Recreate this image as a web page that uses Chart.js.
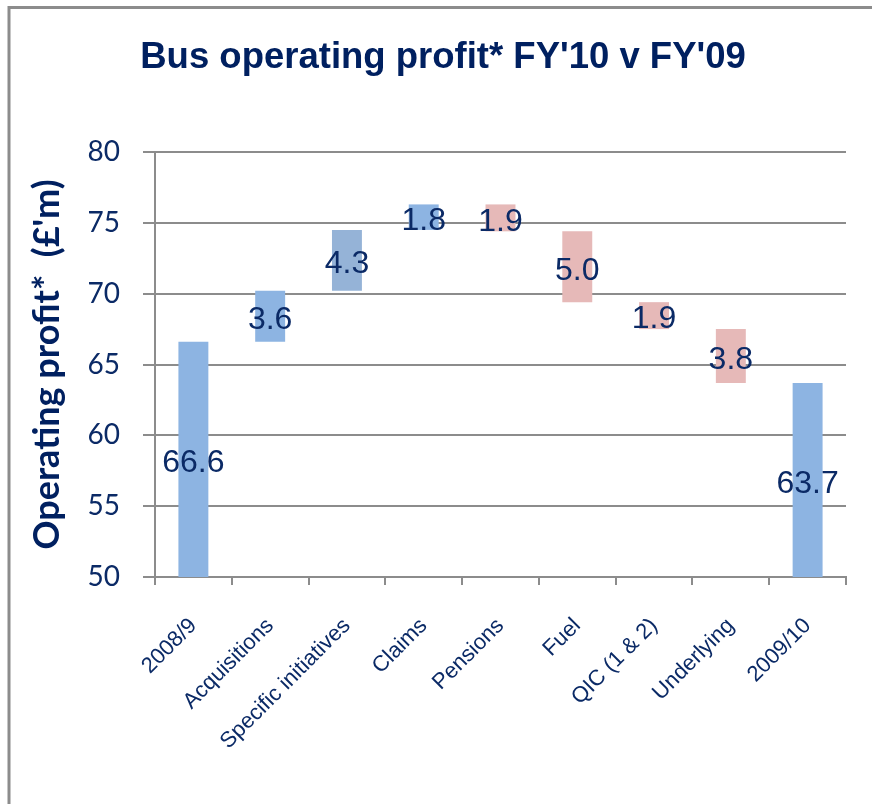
<!DOCTYPE html>
<html><head><meta charset="utf-8">
<script src="https://cdn.jsdelivr.net/npm/chart.js@4/dist/chart.umd.min.js"></script>
<style>html,body{margin:0;padding:0;background:#fff;} canvas{display:block;}</style>
</head><body>
<canvas id="c" width="872" height="804"></canvas>
<script>
// ---- data ----
const categories = ['2008/9','Acquisitions','Specific initiatives','Claims','Pensions','Fuel','QIC (1 & 2)','Underlying','2009/10'];
const openingValue = 66.6;
const changes = [3.6, 4.3, 1.8, -1.9, -5.0, -1.9, -3.8];
const closingValue = 63.7;
const yTicks = [50, 55, 60, 65, 70, 75, 80];
const titleText = "Bus operating profit* FY'10 v FY'09";
const yAxisTitle = "Operating profit*  (£'m)";
const barColors = ['#8DB4E2','#8DB4E2','#95B3D7','#8DB4E2','#E6B9B8','#E6B9B8','#E6B9B8','#E6B9B8','#8DB4E2'];

// ---- build waterfall ranges ----
const axisMin = yTicks[0], axisMax = yTicks[yTicks.length-1];
const ranges = [[axisMin, openingValue]];
const labels = [openingValue.toFixed(1)];
let running = openingValue;
changes.forEach(c => {
  const next = Math.round((running + c) * 10) / 10;
  ranges.push([Math.min(running, next), Math.max(running, next)]);
  labels.push(Math.abs(c).toFixed(1));
  running = next;
});
ranges.push([axisMin, closingValue]);
labels.push(closingValue.toFixed(1));

const NAVY = '#0B2A66';
const GRID = '#8C8C8C';

const decor = {
  id: 'decor',
  beforeDraw(chart) {
    const ctx = chart.ctx;
    ctx.save();
    ctx.fillStyle = '#fff';
    ctx.fillRect(0, 0, chart.width, chart.height);
    ctx.strokeStyle = GRID;
    ctx.lineWidth = 3;
    ctx.beginPath();
    ctx.moveTo(9, 804); ctx.lineTo(9, 7.5); ctx.lineTo(872, 7.5);
    ctx.stroke();
    ctx.fillStyle = '#002060';
    ctx.font = "bold 36.5px 'Liberation Sans'";
    ctx.textAlign = 'center';
    ctx.textBaseline = 'alphabetic';
    ctx.fillText(titleText, 443, 68);
    ctx.restore();
  },
  afterDatasetsDraw(chart) {
    const ctx = chart.ctx;
    const meta = chart.getDatasetMeta(0);
    ctx.save();
    ctx.fillStyle = NAVY;
    ctx.font = "32px 'Liberation Sans'";
    ctx.textAlign = 'center';
    ctx.textBaseline = 'middle';
    meta.data.forEach((el, i) => {
      ctx.fillText(labels[i], el.x, (el.y + el.base) / 2 + 4);
    });
    ctx.restore();
  }
};

new Chart(document.getElementById('c'), {
  type: 'bar',
  data: {
    labels: categories,
    datasets: [{
      data: ranges,
      backgroundColor: barColors,
      borderWidth: 0,
      barPercentage: 0.39,
      categoryPercentage: 1.0
    }]
  },
  options: {
    responsive: false,
    animation: false,
    layout: { padding: { top: 152, right: 26, left: 0, bottom: 0 } },
    plugins: { legend: { display: false }, tooltip: { enabled: false }, title: { display: false } },
    scales: {
      x: {
        grid: { drawOnChartArea: false, drawTicks: true, tickLength: 8, color: GRID, lineWidth: 2, offset: true },
        border: { color: GRID, width: 2 },
        ticks: { minRotation: 45, maxRotation: 45, autoSkip: false, color: NAVY,
                 font: { family: 'Liberation Sans', size: 22 }, padding: 28 },
        afterFit: s => { s.height = 227; }
      },
      y: {
        min: axisMin, max: axisMax,
        afterBuildTicks: s => { s.ticks = yTicks.map(v => ({ value: v })); },
        grid: { color: GRID, lineWidth: 2, tickLength: 12 },
        border: { color: GRID, width: 2 },
        ticks: { color: NAVY, font: { family: 'Lato', size: 28 }, padding: 23 },
        title: { display: true, text: yAxisTitle, color: '#002060',
                 font: { family: 'Lato', size: 36, weight: 'bold' }, padding: { top: 26, bottom: 0 } },
        afterFit: s => { s.width = 155; }
      }
    }
  },
  plugins: [decor]
});
</script>
</body></html>
